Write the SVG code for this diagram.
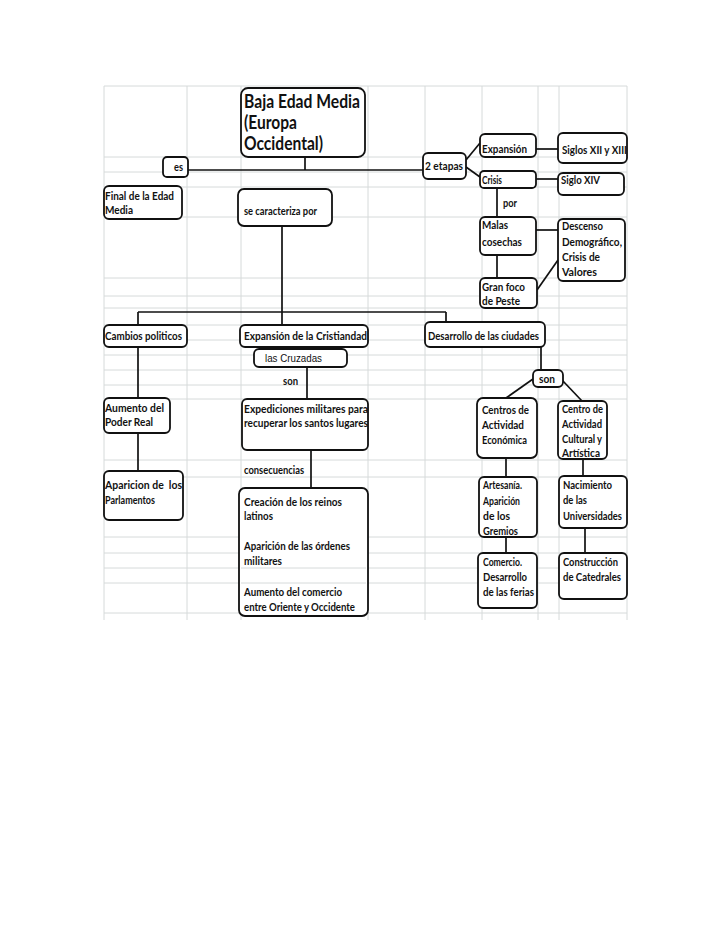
<svg xmlns="http://www.w3.org/2000/svg" width="728" height="943" viewBox="0 0 728 943">
<style>
.grid line{stroke:#d6dada;stroke-width:1}
.n rect{fill:#fff;stroke:#111;stroke-width:1.8}
.t{font-family:Lato,"Liberation Sans",sans-serif;font-weight:bold;font-size:11.5px;fill:#111}
.big{font-family:Lato,"Liberation Sans",sans-serif;font-weight:bold;font-size:18px;fill:#111}
.ar{font-family:"Liberation Sans",Arial,sans-serif;font-size:10.5px;fill:#111}
.c line{stroke:#111;stroke-width:1.7;fill:none}
</style>
<rect width="728" height="943" fill="#fff"/>
<g class="grid">
<line x1="104" y1="86" x2="104" y2="620"/><line x1="187" y1="86" x2="187" y2="620"/><line x1="241" y1="86" x2="241" y2="620"/><line x1="368" y1="86" x2="368" y2="620"/><line x1="425" y1="86" x2="425" y2="620"/><line x1="482" y1="86" x2="482" y2="620"/><line x1="538" y1="86" x2="538" y2="620"/><line x1="559" y1="86" x2="559" y2="620"/><line x1="627" y1="86" x2="627" y2="620"/>
<line x1="104" y1="86" x2="627" y2="86"/><line x1="104" y1="157" x2="627" y2="157"/><line x1="104" y1="172" x2="627" y2="172"/><line x1="104" y1="187" x2="627" y2="187"/><line x1="104" y1="217" x2="627" y2="217"/><line x1="104" y1="278" x2="627" y2="278"/><line x1="104" y1="296" x2="627" y2="296"/><line x1="104" y1="308" x2="627" y2="308"/><line x1="104" y1="325" x2="627" y2="325"/><line x1="104" y1="340" x2="627" y2="340"/><line x1="104" y1="355" x2="627" y2="355"/><line x1="104" y1="370" x2="627" y2="370"/><line x1="104" y1="385" x2="627" y2="385"/><line x1="104" y1="399" x2="627" y2="399"/><line x1="104" y1="460" x2="627" y2="460"/><line x1="104" y1="477" x2="627" y2="477"/><line x1="104" y1="537" x2="627" y2="537"/><line x1="104" y1="553" x2="627" y2="553"/><line x1="104" y1="568" x2="627" y2="568"/><line x1="104" y1="583" x2="627" y2="583"/><line x1="104" y1="613" x2="627" y2="613"/>
</g>
<g class="c" id="connectors">
<line x1="305" y1="157" x2="305" y2="170"/>
<line x1="188" y1="170" x2="423" y2="170"/>
<line x1="466" y1="160" x2="480" y2="143"/>
<line x1="466" y1="167" x2="480" y2="177"/>
<line x1="536" y1="149" x2="558" y2="149"/>
<line x1="536" y1="179" x2="558" y2="179"/>
<line x1="497" y1="188" x2="497" y2="217"/>
<line x1="536" y1="230" x2="558" y2="230"/>
<line x1="497" y1="255" x2="497" y2="278"/>
<line x1="537" y1="290" x2="558" y2="260"/>
<line x1="282" y1="226" x2="282" y2="325"/>
<line x1="138" y1="312" x2="446" y2="312"/>
<line x1="138" y1="312" x2="138" y2="325"/>
<line x1="446" y1="312" x2="446" y2="322"/>
<line x1="138" y1="347" x2="138" y2="398"/>
<line x1="138" y1="433" x2="138" y2="471"/>
<line x1="307" y1="367" x2="307" y2="399"/>
<line x1="311" y1="450" x2="311" y2="488"/>
<line x1="541" y1="347" x2="541" y2="370"/>
<line x1="533" y1="379" x2="506" y2="398"/>
<line x1="562" y1="380" x2="582" y2="401"/>
<line x1="506" y1="458" x2="506" y2="477"/>
<line x1="506" y1="537" x2="506" y2="553"/>
<line x1="583" y1="459" x2="583" y2="476"/>
<line x1="585" y1="528" x2="585" y2="553"/>
</g>
<g class="n" id="baja"><rect x="241" y="88" width="124" height="69" rx="7"/>
<text class="big" x="244" y="108" textLength="116" lengthAdjust="spacingAndGlyphs">Baja Edad Media</text>
<text class="big" x="244" y="129" textLength="53" lengthAdjust="spacingAndGlyphs">(Europa</text>
<text class="big" x="244" y="150" textLength="79" lengthAdjust="spacingAndGlyphs">Occidental)</text></g>
<g class="n" id="es"><rect x="163" y="157" width="25" height="20" rx="4"/><text class="t" x="174" y="171" textLength="9" lengthAdjust="spacingAndGlyphs">es</text></g>
<g class="n" id="final"><rect x="104" y="186" width="78" height="33" rx="5"/>
<text class="t" x="105" y="200" textLength="69" lengthAdjust="spacingAndGlyphs">Final de la Edad</text>
<text class="t" x="105" y="214" textLength="28" lengthAdjust="spacingAndGlyphs">Media</text></g>
<g class="n" id="secar"><rect x="238" y="189" width="94" height="37" rx="6"/>
<text class="t" x="244" y="215" textLength="73" lengthAdjust="spacingAndGlyphs">se caracteriza por</text></g>
<g class="n" id="etapas"><rect x="423" y="153" width="43" height="26" rx="5"/><text class="t" x="425" y="170" textLength="38" lengthAdjust="spacingAndGlyphs">2 etapas</text></g>
<g class="n" id="expansion"><rect x="480" y="134" width="56" height="23" rx="5"/><text class="t" x="482" y="153" textLength="45" lengthAdjust="spacingAndGlyphs">Expansión</text></g>
<g class="n" id="siglos"><rect x="558" y="133" width="69" height="30" rx="5"/><text class="t" x="562" y="154" textLength="65" lengthAdjust="spacingAndGlyphs">Siglos XII y XIII</text></g>
<g class="n" id="crisis"><rect x="480" y="171" width="56" height="17" rx="4"/><text class="t" x="482" y="184" textLength="20" lengthAdjust="spacingAndGlyphs">Crisis</text></g>
<g class="n" id="siglo14"><rect x="558" y="173" width="66" height="22" rx="5"/><text class="t" x="561" y="184" textLength="39" lengthAdjust="spacingAndGlyphs">Siglo XIV</text></g>
<g id="por"><text class="t" x="503" y="207" textLength="14" lengthAdjust="spacingAndGlyphs">por</text></g>
<g class="n" id="malas"><rect x="480" y="217" width="56" height="38" rx="5"/>
<text class="t" x="482" y="229" textLength="26" lengthAdjust="spacingAndGlyphs">Malas</text>
<text class="t" x="482" y="246" textLength="40" lengthAdjust="spacingAndGlyphs">cosechas</text></g>
<g class="n" id="descenso"><rect x="558" y="219" width="67" height="62" rx="5"/>
<text class="t" x="562" y="230" textLength="41" lengthAdjust="spacingAndGlyphs">Descenso</text>
<text class="t" x="562" y="246" textLength="60" lengthAdjust="spacingAndGlyphs">Demográfico,</text>
<text class="t" x="562" y="261" textLength="38" lengthAdjust="spacingAndGlyphs">Crisis de</text>
<text class="t" x="562" y="276" textLength="35" lengthAdjust="spacingAndGlyphs">Valores</text></g>
<g class="n" id="granfoco"><rect x="480" y="278" width="57" height="30" rx="5"/>
<text class="t" x="482" y="291" textLength="43" lengthAdjust="spacingAndGlyphs">Gran foco</text>
<text class="t" x="482" y="305" textLength="38" lengthAdjust="spacingAndGlyphs">de Peste</text></g>
<g class="n" id="cambios"><rect x="104" y="325" width="83" height="22" rx="5"/><text class="t" x="105" y="340" textLength="77" lengthAdjust="spacingAndGlyphs">Cambios politicos</text></g>
<g class="n" id="expcrist"><rect x="240" y="325" width="128" height="22" rx="5"/><text class="t" x="244" y="340" textLength="123" lengthAdjust="spacingAndGlyphs">Expansión de la Cristiandad</text></g>
<g class="n" id="cruzadas"><rect x="254" y="349" width="93" height="18" rx="5"/><text class="ar" x="265" y="362" textLength="57" lengthAdjust="spacingAndGlyphs">las Cruzadas</text></g>
<g id="son1"><text class="t" x="283" y="385" textLength="15" lengthAdjust="spacingAndGlyphs">son</text></g>
<g class="n" id="desarrollo"><rect x="425" y="322" width="120" height="25" rx="5"/><text class="t" x="428" y="340" textLength="111" lengthAdjust="spacingAndGlyphs">Desarrollo de las ciudades</text></g>
<g class="n" id="son2"><rect x="533" y="370" width="30" height="17" rx="5"/><text class="t" x="539" y="383" textLength="16" lengthAdjust="spacingAndGlyphs">son</text></g>
<g class="n" id="aumento"><rect x="104" y="398" width="66" height="35" rx="5"/>
<text class="t" x="105" y="412" textLength="59" lengthAdjust="spacingAndGlyphs">Aumento del</text>
<text class="t" x="105" y="426" textLength="48" lengthAdjust="spacingAndGlyphs">Poder Real</text></g>
<g class="n" id="expediciones"><rect x="242" y="399" width="126" height="51" rx="5"/>
<text class="t" x="244" y="413" textLength="124" lengthAdjust="spacingAndGlyphs">Expediciones militares para</text>
<text class="t" x="244" y="427" textLength="124" lengthAdjust="spacingAndGlyphs">recuperar los santos lugares</text></g>
<g id="consecuencias"><text class="t" x="244" y="474" textLength="60" lengthAdjust="spacingAndGlyphs">consecuencias</text></g>
<g class="n" id="aparicion"><rect x="104" y="471" width="79" height="49" rx="5"/>
<text class="t" x="105" y="489" textLength="77" lengthAdjust="spacingAndGlyphs" xml:space="preserve">Aparicion de  los</text>
<text class="t" x="105" y="504" textLength="50" lengthAdjust="spacingAndGlyphs">Parlamentos</text></g>
<g class="n" id="creacion"><rect x="239" y="488" width="129" height="128" rx="6"/>
<line x1="241" y1="568" x2="366" y2="568" stroke="#d6dada"/><line x1="241" y1="583" x2="366" y2="583" stroke="#d6dada"/>
<text class="t" x="244" y="506" textLength="98" lengthAdjust="spacingAndGlyphs">Creación de los reinos</text>
<text class="t" x="244" y="520" textLength="29" lengthAdjust="spacingAndGlyphs">latinos</text>
<text class="t" x="244" y="550" textLength="106" lengthAdjust="spacingAndGlyphs">Aparición de las órdenes</text>
<text class="t" x="244" y="565" textLength="38" lengthAdjust="spacingAndGlyphs">militares</text>
<text class="t" x="244" y="596" textLength="98" lengthAdjust="spacingAndGlyphs">Aumento del comercio</text>
<text class="t" x="244" y="611" textLength="111" lengthAdjust="spacingAndGlyphs">entre Oriente y Occidente</text></g>
<g class="n" id="centros"><rect x="477" y="398" width="60" height="60" rx="6"/>
<text class="t" x="482" y="414" textLength="47" lengthAdjust="spacingAndGlyphs">Centros de</text>
<text class="t" x="482" y="429" textLength="42" lengthAdjust="spacingAndGlyphs">Actividad</text>
<text class="t" x="482" y="444" textLength="45" lengthAdjust="spacingAndGlyphs">Económica</text></g>
<g class="n" id="centro"><rect x="558" y="401" width="49" height="58" rx="5"/>
<text class="t" x="562" y="413" textLength="41" lengthAdjust="spacingAndGlyphs">Centro de</text>
<text class="t" x="562" y="428" textLength="40" lengthAdjust="spacingAndGlyphs">Actividad</text>
<text class="t" x="562" y="443" textLength="40" lengthAdjust="spacingAndGlyphs">Cultural y</text>
<text class="t" x="562" y="457" textLength="38" lengthAdjust="spacingAndGlyphs">Artística</text></g>
<g class="n" id="artesania"><rect x="479" y="477" width="58" height="60" rx="5"/>
<text class="t" x="483" y="489" textLength="39" lengthAdjust="spacingAndGlyphs">Artesanía.</text>
<text class="t" x="483" y="505" textLength="37" lengthAdjust="spacingAndGlyphs">Aparición</text>
<text class="t" x="483" y="520" textLength="27" lengthAdjust="spacingAndGlyphs">de los</text>
<text class="t" x="483" y="535" textLength="35" lengthAdjust="spacingAndGlyphs">Gremios</text></g>
<g class="n" id="nacimiento"><rect x="559" y="476" width="68" height="52" rx="5"/>
<text class="t" x="563" y="489" textLength="49" lengthAdjust="spacingAndGlyphs">Nacimiento</text>
<text class="t" x="563" y="504" textLength="24" lengthAdjust="spacingAndGlyphs">de las</text>
<text class="t" x="563" y="520" textLength="59" lengthAdjust="spacingAndGlyphs">Universidades</text></g>
<g class="n" id="comercio"><rect x="478" y="553" width="59" height="55" rx="5"/>
<text class="t" x="483" y="566" textLength="39" lengthAdjust="spacingAndGlyphs">Comercio.</text>
<text class="t" x="483" y="581" textLength="44" lengthAdjust="spacingAndGlyphs">Desarrollo</text>
<text class="t" x="483" y="596" textLength="51" lengthAdjust="spacingAndGlyphs">de las ferias</text></g>
<g class="n" id="construccion"><rect x="559" y="553" width="68" height="46" rx="5"/>
<text class="t" x="563" y="566" textLength="55" lengthAdjust="spacingAndGlyphs">Construcción</text>
<text class="t" x="563" y="581" textLength="58" lengthAdjust="spacingAndGlyphs">de Catedrales</text></g>
</svg>
